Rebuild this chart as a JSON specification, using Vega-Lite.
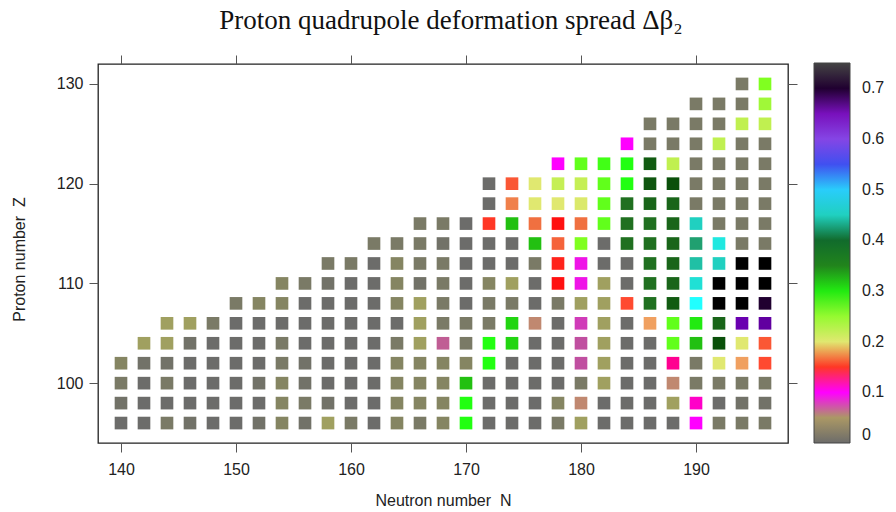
{
"$schema":"https://vega.github.io/schema/vega-lite/v6.json",
"width":690,"height":379,
"autosize":{"type":"none"},
"padding":{"left":98,"top":64,"right":108,"bottom":69},
"background":"white",
"title":{"text":"Proton quadrupole deformation spread Δβ₂","font":"Liberation Serif","fontSize":27,"fontWeight":"normal","color":"#111","anchor":"middle","dx":8,"offset":20},
"config":{"view":{"stroke":"#222","strokeWidth":1.3},
"axis":{"domain":false,"grid":false,"tickColor":"#555","tickSize":9,"tickWidth":1,"labelFont":"Liberation Sans","labelFontSize":16,"labelColor":"#222","titleFont":"Liberation Sans","titleFontSize":16,"titleFontWeight":"normal","titleColor":"#222"}},
"data":{"values":[
{"N":140,"Z":96,"v":0},{"N":142,"Z":96,"v":0},{"N":144,"Z":96,"v":0.02},{"N":146,"Z":96,"v":0.01},{"N":148,"Z":96,"v":0},{"N":150,"Z":96,"v":0},{"N":152,"Z":96,"v":0.01},{"N":154,"Z":96,"v":0.03},{"N":156,"Z":96,"v":0.01},{"N":158,"Z":96,"v":0.045},{"N":160,"Z":96,"v":0.02},{"N":162,"Z":96,"v":0},{"N":164,"Z":96,"v":0.03},{"N":166,"Z":96,"v":0.02},{"N":168,"Z":96,"v":0.03},{"N":170,"Z":96,"v":0.29},{"N":172,"Z":96,"v":0},{"N":174,"Z":96,"v":0},{"N":176,"Z":96,"v":0},{"N":178,"Z":96,"v":0.02},{"N":180,"Z":96,"v":0.045},{"N":182,"Z":96,"v":0},{"N":184,"Z":96,"v":0},{"N":186,"Z":96,"v":0},{"N":188,"Z":96,"v":0},{"N":190,"Z":96,"v":0.1},{"N":192,"Z":96,"v":0.02},{"N":194,"Z":96,"v":0.02},{"N":196,"Z":96,"v":0.02},
{"N":140,"Z":98,"v":0.01},{"N":142,"Z":98,"v":0},{"N":144,"Z":98,"v":0},{"N":146,"Z":98,"v":0},{"N":148,"Z":98,"v":0},{"N":150,"Z":98,"v":0},{"N":152,"Z":98,"v":0},{"N":154,"Z":98,"v":0.03},{"N":156,"Z":98,"v":0.02},{"N":158,"Z":98,"v":0.01},{"N":160,"Z":98,"v":0},{"N":162,"Z":98,"v":0},{"N":164,"Z":98,"v":0.03},{"N":166,"Z":98,"v":0.03},{"N":168,"Z":98,"v":0.03},{"N":170,"Z":98,"v":0.29},{"N":172,"Z":98,"v":0},{"N":174,"Z":98,"v":0},{"N":176,"Z":98,"v":0},{"N":178,"Z":98,"v":0.03},{"N":180,"Z":98,"v":0.06},{"N":182,"Z":98,"v":0},{"N":184,"Z":98,"v":0},{"N":186,"Z":98,"v":0},{"N":188,"Z":98,"v":0.045},{"N":190,"Z":98,"v":0.11},{"N":192,"Z":98,"v":0},{"N":194,"Z":98,"v":0.01},{"N":196,"Z":98,"v":0.01},
{"N":140,"Z":100,"v":0.02},{"N":142,"Z":100,"v":0},{"N":144,"Z":100,"v":0.02},{"N":146,"Z":100,"v":0},{"N":148,"Z":100,"v":0},{"N":150,"Z":100,"v":0},{"N":152,"Z":100,"v":0.01},{"N":154,"Z":100,"v":0.03},{"N":156,"Z":100,"v":0.01},{"N":158,"Z":100,"v":0},{"N":160,"Z":100,"v":0},{"N":162,"Z":100,"v":0},{"N":164,"Z":100,"v":0.03},{"N":166,"Z":100,"v":0.03},{"N":168,"Z":100,"v":0.03},{"N":170,"Z":100,"v":0.32},{"N":172,"Z":100,"v":0},{"N":174,"Z":100,"v":0},{"N":176,"Z":100,"v":0},{"N":178,"Z":100,"v":0},{"N":180,"Z":100,"v":0.02},{"N":182,"Z":100,"v":0.045},{"N":184,"Z":100,"v":0},{"N":186,"Z":100,"v":0},{"N":188,"Z":100,"v":0.06},{"N":190,"Z":100,"v":0.02},{"N":192,"Z":100,"v":0.02},{"N":194,"Z":100,"v":0.02},{"N":196,"Z":100,"v":0.02},
{"N":140,"Z":102,"v":0.03},{"N":142,"Z":102,"v":0.01},{"N":144,"Z":102,"v":0.01},{"N":146,"Z":102,"v":0},{"N":148,"Z":102,"v":0},{"N":150,"Z":102,"v":0},{"N":152,"Z":102,"v":0},{"N":154,"Z":102,"v":0.02},{"N":156,"Z":102,"v":0.01},{"N":158,"Z":102,"v":0},{"N":160,"Z":102,"v":0},{"N":162,"Z":102,"v":0},{"N":164,"Z":102,"v":0.03},{"N":166,"Z":102,"v":0.03},{"N":168,"Z":102,"v":0.03},{"N":170,"Z":102,"v":0.03},{"N":172,"Z":102,"v":0.29},{"N":174,"Z":102,"v":0},{"N":176,"Z":102,"v":0},{"N":178,"Z":102,"v":0},{"N":180,"Z":102,"v":0.08},{"N":182,"Z":102,"v":0.045},{"N":184,"Z":102,"v":0},{"N":186,"Z":102,"v":0},{"N":188,"Z":102,"v":0.12},{"N":190,"Z":102,"v":0.02},{"N":192,"Z":102,"v":0.2},{"N":194,"Z":102,"v":0.185},{"N":196,"Z":102,"v":0.155},
{"N":142,"Z":104,"v":0.045},{"N":144,"Z":104,"v":0.045},{"N":146,"Z":104,"v":0.01},{"N":148,"Z":104,"v":0},{"N":150,"Z":104,"v":0},{"N":152,"Z":104,"v":0},{"N":154,"Z":104,"v":0.02},{"N":156,"Z":104,"v":0},{"N":158,"Z":104,"v":0},{"N":160,"Z":104,"v":0},{"N":162,"Z":104,"v":0},{"N":164,"Z":104,"v":0.02},{"N":166,"Z":104,"v":0.045},{"N":168,"Z":104,"v":0.075},{"N":170,"Z":104,"v":0.02},{"N":172,"Z":104,"v":0.29},{"N":174,"Z":104,"v":0.31},{"N":176,"Z":104,"v":0},{"N":178,"Z":104,"v":0},{"N":180,"Z":104,"v":0.08},{"N":182,"Z":104,"v":0.045},{"N":184,"Z":104,"v":0},{"N":186,"Z":104,"v":0},{"N":188,"Z":104,"v":0.27},{"N":190,"Z":104,"v":0.32},{"N":192,"Z":104,"v":0.39},{"N":194,"Z":104,"v":0.2},{"N":196,"Z":104,"v":0.16},
{"N":144,"Z":106,"v":0.045},{"N":146,"Z":106,"v":0.045},{"N":148,"Z":106,"v":0.02},{"N":150,"Z":106,"v":0},{"N":152,"Z":106,"v":0},{"N":154,"Z":106,"v":0},{"N":156,"Z":106,"v":0},{"N":158,"Z":106,"v":0},{"N":160,"Z":106,"v":0},{"N":162,"Z":106,"v":0},{"N":164,"Z":106,"v":0},{"N":166,"Z":106,"v":0.045},{"N":168,"Z":106,"v":0.02},{"N":170,"Z":106,"v":0.02},{"N":172,"Z":106,"v":0.02},{"N":174,"Z":106,"v":0.31},{"N":176,"Z":106,"v":0.06},{"N":178,"Z":106,"v":0},{"N":180,"Z":106,"v":0.085},{"N":182,"Z":106,"v":0.045},{"N":184,"Z":106,"v":0},{"N":186,"Z":106,"v":0.185},{"N":188,"Z":106,"v":0.27},{"N":190,"Z":106,"v":0.3},{"N":192,"Z":106,"v":0.37},{"N":194,"Z":106,"v":0.66},{"N":196,"Z":106,"v":0.665},
{"N":150,"Z":108,"v":0.02},{"N":152,"Z":108,"v":0.03},{"N":154,"Z":108,"v":0.03},{"N":156,"Z":108,"v":0},{"N":158,"Z":108,"v":0},{"N":160,"Z":108,"v":0},{"N":162,"Z":108,"v":0},{"N":164,"Z":108,"v":0.03},{"N":166,"Z":108,"v":0.045},{"N":168,"Z":108,"v":0.02},{"N":170,"Z":108,"v":0},{"N":172,"Z":108,"v":0.02},{"N":174,"Z":108,"v":0.02},{"N":176,"Z":108,"v":0},{"N":178,"Z":108,"v":0.02},{"N":180,"Z":108,"v":0.045},{"N":182,"Z":108,"v":0.045},{"N":184,"Z":108,"v":0.155},{"N":186,"Z":108,"v":0.36},{"N":188,"Z":108,"v":0.38},{"N":190,"Z":108,"v":0.48},{"N":192,"Z":108,"v":0.73},{"N":194,"Z":108,"v":0.73},{"N":196,"Z":108,"v":0.7},
{"N":154,"Z":110,"v":0.03},{"N":156,"Z":110,"v":0.02},{"N":158,"Z":110,"v":0.01},{"N":160,"Z":110,"v":0},{"N":162,"Z":110,"v":0},{"N":164,"Z":110,"v":0.03},{"N":166,"Z":110,"v":0.01},{"N":168,"Z":110,"v":0.02},{"N":170,"Z":110,"v":0},{"N":172,"Z":110,"v":0.03},{"N":174,"Z":110,"v":0.045},{"N":176,"Z":110,"v":0},{"N":178,"Z":110,"v":0.14},{"N":180,"Z":110,"v":0.095},{"N":182,"Z":110,"v":0.045},{"N":184,"Z":110,"v":0},{"N":186,"Z":110,"v":0.36},{"N":188,"Z":110,"v":0.37},{"N":190,"Z":110,"v":0.46},{"N":192,"Z":110,"v":0.73},{"N":194,"Z":110,"v":0.73},{"N":196,"Z":110,"v":0.73},
{"N":158,"Z":112,"v":0.02},{"N":160,"Z":112,"v":0.02},{"N":162,"Z":112,"v":0},{"N":164,"Z":112,"v":0.03},{"N":166,"Z":112,"v":0.02},{"N":168,"Z":112,"v":0.02},{"N":170,"Z":112,"v":0},{"N":172,"Z":112,"v":0},{"N":174,"Z":112,"v":0},{"N":176,"Z":112,"v":0.02},{"N":178,"Z":112,"v":0.145},{"N":180,"Z":112,"v":0.095},{"N":182,"Z":112,"v":0},{"N":184,"Z":112,"v":0},{"N":186,"Z":112,"v":0.36},{"N":188,"Z":112,"v":0.37},{"N":190,"Z":112,"v":0.44},{"N":192,"Z":112,"v":0.45},{"N":194,"Z":112,"v":0.73},{"N":196,"Z":112,"v":0.73},
{"N":162,"Z":114,"v":0.02},{"N":164,"Z":114,"v":0.02},{"N":166,"Z":114,"v":0.02},{"N":168,"Z":114,"v":0.01},{"N":170,"Z":114,"v":0},{"N":172,"Z":114,"v":0},{"N":174,"Z":114,"v":0},{"N":176,"Z":114,"v":0.32},{"N":178,"Z":114,"v":0.165},{"N":180,"Z":114,"v":0.26},{"N":182,"Z":114,"v":0},{"N":184,"Z":114,"v":0.36},{"N":186,"Z":114,"v":0.36},{"N":188,"Z":114,"v":0.37},{"N":190,"Z":114,"v":0.42},{"N":192,"Z":114,"v":0.465},{"N":194,"Z":114,"v":0.02},{"N":196,"Z":114,"v":0.02},
{"N":166,"Z":116,"v":0.02},{"N":168,"Z":116,"v":0.02},{"N":170,"Z":116,"v":0},{"N":172,"Z":116,"v":0.15},{"N":174,"Z":116,"v":0.32},{"N":176,"Z":116,"v":0.17},{"N":178,"Z":116,"v":0.14},{"N":180,"Z":116,"v":0.17},{"N":182,"Z":116,"v":0.27},{"N":184,"Z":116,"v":0.36},{"N":186,"Z":116,"v":0.36},{"N":188,"Z":116,"v":0.37},{"N":190,"Z":116,"v":0.45},{"N":192,"Z":116,"v":0.02},{"N":194,"Z":116,"v":0.02},{"N":196,"Z":116,"v":0.02},
{"N":172,"Z":118,"v":0},{"N":174,"Z":118,"v":0.175},{"N":176,"Z":118,"v":0.2},{"N":178,"Z":118,"v":0.2},{"N":180,"Z":118,"v":0.205},{"N":182,"Z":118,"v":0.27},{"N":184,"Z":118,"v":0.36},{"N":186,"Z":118,"v":0.37},{"N":188,"Z":118,"v":0.37},{"N":190,"Z":118,"v":0.02},{"N":192,"Z":118,"v":0.02},{"N":194,"Z":118,"v":0.02},{"N":196,"Z":118,"v":0.02},
{"N":172,"Z":120,"v":0},{"N":174,"Z":120,"v":0.16},{"N":176,"Z":120,"v":0.2},{"N":178,"Z":120,"v":0.225},{"N":180,"Z":120,"v":0.225},{"N":182,"Z":120,"v":0.27},{"N":184,"Z":120,"v":0.29},{"N":186,"Z":120,"v":0.385},{"N":188,"Z":120,"v":0.39},{"N":190,"Z":120,"v":0.02},{"N":192,"Z":120,"v":0.02},{"N":194,"Z":120,"v":0.02},{"N":196,"Z":120,"v":0.02},
{"N":178,"Z":122,"v":0.1},{"N":180,"Z":122,"v":0.27},{"N":182,"Z":122,"v":0.28},{"N":184,"Z":122,"v":0.29},{"N":186,"Z":122,"v":0.38},{"N":188,"Z":122,"v":0.23},{"N":190,"Z":122,"v":0.02},{"N":192,"Z":122,"v":0.02},{"N":194,"Z":122,"v":0.02},{"N":196,"Z":122,"v":0.02},
{"N":184,"Z":124,"v":0.1},{"N":186,"Z":124,"v":0.02},{"N":188,"Z":124,"v":0.02},{"N":190,"Z":124,"v":0.02},{"N":192,"Z":124,"v":0.23},{"N":194,"Z":124,"v":0.02},{"N":196,"Z":124,"v":0.02},
{"N":186,"Z":126,"v":0.02},{"N":188,"Z":126,"v":0.02},{"N":190,"Z":126,"v":0.02},{"N":192,"Z":126,"v":0.02},{"N":194,"Z":126,"v":0.23},{"N":196,"Z":126,"v":0.23},
{"N":190,"Z":128,"v":0.02},{"N":192,"Z":128,"v":0.02},{"N":194,"Z":128,"v":0.02},{"N":196,"Z":128,"v":0.245},
{"N":194,"Z":130,"v":0.02},{"N":196,"Z":130,"v":0.26}
]},
"layer":[
{"mark":{"type":"square","size":160,"opacity":1,"strokeWidth":0},
"encoding":{
"x":{"field":"N","type":"quantitative","scale":{"domain":[138,198],"nice":false,"zero":false},
"axis":{"orient":"bottom","values":[140,150,160,170,180,190],"title":"Neutron number\u00a0\u00a0N","labelPadding":9,"titleX":345,"titleY":57,"titleBaseline":"middle","titleAlign":"center"}},
"y":{"field":"Z","type":"quantitative","scale":{"domain":[94,132],"nice":false,"zero":false},
"axis":{"orient":"left","values":[100,110,120,130],"title":"Proton number\u00a0\u00a0Z","labelPadding":6,"titleX":-79,"titleY":195,"titleBaseline":"middle","titleAlign":"center","titleAngle":-90}},
"color":{"field":"v","type":"quantitative",
"scale":{"domain":[0,0.01,0.02,0.03,0.045,0.06,0.08,0.1,0.12,0.14,0.155,0.17,0.185,0.2,0.23,0.26,0.29,0.32,0.36,0.39,0.42,0.45,0.48,0.55,0.62,0.66,0.7,0.73,0.75],
"range":["#6c6c6a","#727268","#7a7a66","#858562","#a0a060","#c08870","#c04fa0","#ff00ff","#ff0090","#ff1010","#ff4a30","#f07040","#f0a060","#e0e870","#c0f050","#80ff20","#22ff11","#22c011","#207020","#0a500a","#20a070","#20d0c0","#20ffff","#4050f0","#a040e0","#6a00b0","#200030","#000000","#444444"],"interpolate":"rgb"},
"legend":{"orient":"none","legendX":716,"legendY":-1,"title":null,"direction":"vertical","gradientLength":380,"gradientThickness":36,"values":[0,0.1,0.2,0.3,0.4,0.5,0.6,0.7],"format":".1~f","labelFont":"Liberation Sans","labelFontSize":16,"labelColor":"#222","labelOffset":12,"labelBaseline":"middle","gradientStrokeColor":"#444","gradientStrokeWidth":1}}
}},
{"mark":{"type":"square","size":0,"opacity":0},
"encoding":{
"x":{"field":"N","type":"quantitative","axis":{"orient":"top","values":[140,150,160,170,180,190],"labels":false,"title":null}},
"y":{"field":"Z","type":"quantitative","axis":{"orient":"right","values":[100,110,120,130],"labels":false,"title":null}}
}}
],
"resolve":{"axis":{"x":"independent","y":"independent"}}
}
